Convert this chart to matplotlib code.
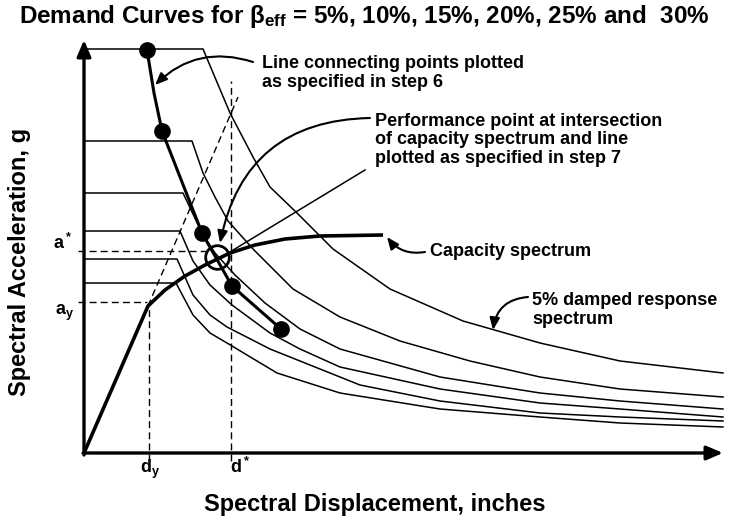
import matplotlib
matplotlib.use("Agg")
import matplotlib.pyplot as plt

plt.rcParams['font.family'] = ['Liberation Sans', 'DejaVu Sans']
plt.rcParams['font.weight'] = 'bold'
plt.rcParams['mathtext.fontset'] = 'custom'
plt.rcParams['mathtext.rm'] = 'Liberation Sans:bold'
plt.rcParams['mathtext.bf'] = 'Liberation Sans:bold'
plt.rcParams['mathtext.it'] = 'Liberation Sans:bold'

##########################
# demand curves (Sd in inches, Sa in g), beta_eff = 5 .. 30 %
sd_5 = [0, 2.38, 2.92, 3.38, 3.72, 4.26, 4.98, 6.12, 7.58, 9.12, 10.72, 12.78]
sa_5 = [1.01, 1.01, 0.85, 0.74, 0.665, 0.60, 0.51, 0.41, 0.33, 0.275, 0.23, 0.20]
sd_10 = [0, 2.16, 2.38, 2.62, 2.88, 3.38, 4.18, 5.12, 6.32, 7.72, 9.12, 10.72, 12.78]
sa_10 = [0.78, 0.78, 0.70, 0.64, 0.58, 0.51, 0.41, 0.34, 0.28, 0.23, 0.19, 0.16, 0.14]
sd_15 = [0, 1.98, 2.36, 2.62, 3.02, 3.62, 4.32, 5.12, 7.12, 9.12, 10.72, 12.78]
sa_15 = [0.65, 0.65, 0.55, 0.50, 0.445, 0.375, 0.31, 0.26, 0.19, 0.15, 0.13, 0.11]
sd_20 = [0, 1.92, 2.18, 2.52, 2.96, 3.72, 4.32, 5.12, 7.12, 9.12, 10.72, 12.78]
sa_20 = [0.555, 0.555, 0.48, 0.42, 0.37, 0.30, 0.26, 0.215, 0.16, 0.125, 0.11, 0.09]
sd_25 = [0, 1.86, 2.18, 2.52, 2.86, 3.72, 4.32, 5.52, 7.12, 9.12, 10.72, 12.78]
sa_25 = [0.485, 0.485, 0.395, 0.345, 0.315, 0.26, 0.23, 0.17, 0.13, 0.10, 0.09, 0.08]
sd_30 = [0, 1.84, 2.18, 2.52, 2.86, 3.86, 5.12, 7.12, 9.12, 10.72, 12.78]
sa_30 = [0.425, 0.425, 0.345, 0.30, 0.275, 0.20, 0.15, 0.11, 0.09, 0.075, 0.065]

# capacity spectrum
cap_sd = [0, 1.28, 1.62, 2.02, 2.42, 2.92, 3.42, 4.02, 4.72, 5.98]
cap_sa = [0, 0.3675, 0.4075, 0.4425, 0.47, 0.50, 0.52, 0.535, 0.5425, 0.545]

# points plotted in step 6 and performance point
pts_sd = [1.26, 1.40, 1.56, 2.36, 2.96, 3.94]
pts_sa = [1.0075, 0.90, 0.805, 0.55, 0.4175, 0.31]
dots_sd = [1.26, 1.56, 2.36, 2.96, 3.94]
dots_sa = [1.0075, 0.805, 0.55, 0.4175, 0.31]
perf_sd, perf_sa = 2.66, 0.49

d_y, a_y = 1.30, 0.3775
d_star, a_star = 2.94, 0.505

##########################

fig = plt.figure(figsize=(7.31, 5.31), dpi=100)
ax = fig.add_axes([0, 0, 1, 1])
ax.set_xlim(-1.68, 12.94)
ax.set_ylim(-0.195, 1.1325)
ax.axis('off')

k = 'black'
for sd, sa in [(sd_5, sa_5), (sd_10, sa_10), (sd_15, sa_15),
               (sd_20, sa_20), (sd_25, sa_25), (sd_30, sa_30)]:
    ax.plot(sd, sa, color=k, lw=1.1)

ax.plot(cap_sd, cap_sa, color=k, lw=2.6, solid_capstyle='butt')

# dashed construction lines
dash = dict(color=k, lw=1.0, dashes=(5, 3))
ax.plot([-0.12, 1.26], [a_y, a_y], **dash)
ax.plot([-0.12, 2.46], [a_star, a_star], **dash)
ax.plot([d_y, d_y], [-0.02, 0.365], **dash)
ax.plot([d_star, d_star], [-0.02, 0.93], **dash)
ax.plot([1.28, 3.08], [0.3675, 0.89], **dash)

# straight line into the performance point
ax.plot([2.72, 5.62], [0.4875, 0.7075], color=k, lw=1.1)

# line connecting points of step 6
ax.plot(pts_sd, pts_sa, color=k, lw=2.2)
ax.plot(dots_sd, dots_sa, 'o', color=k, ms=11)
ax.plot([perf_sd], [perf_sa], 'o', mfc='none', mec=k, mew=2.0, ms=17)

# axes with arrows
arr = dict(arrowstyle='-|>,head_length=0.7,head_width=0.3', lw=2.4, color=k,
           shrinkA=0, shrinkB=0, mutation_scale=14)
ax.annotate('', xy=(12.78, 0), xytext=(-0.02, 0), arrowprops=arr)
ax.annotate('', xy=(0, 1.0325), xytext=(0, -0.005), arrowprops=arr)

# leaders
def leader(start, tip, rad):
    ax.annotate('', xy=tip, xytext=start,
                arrowprops=dict(arrowstyle='-|>,head_length=0.6,head_width=0.25',
                                lw=1.5, color=k, shrinkA=0, shrinkB=0,
                                mutation_scale=12,
                                connectionstyle='arc3,rad=%s' % rad))

leader((3.38, 0.9775), (1.42, 0.92), 0.3)
leader((5.72, 0.8375), (2.72, 0.525), 0.4)
leader((6.82, 0.5025), (6.06, 0.54), -0.3)
leader((8.88, 0.39), (8.18, 0.3075), 0.4)

fs = 13
ax.text(3.56, 0.95, 'Line connecting points plotted\nas specified in step 6',
        fontsize=fs, ha='left', va='center', linespacing=1.15)
ax.text(5.82, 0.7825, 'Performance point at intersection\nof capacity spectrum and line\nplotted as specified in step 7',
        fontsize=fs, ha='left', va='center', linespacing=1.15)
ax.text(6.92, 0.505, 'Capacity spectrum', fontsize=fs, ha='left', va='center')
ax.text(8.96, 0.3575, '5% damped response\nspectrum', fontsize=fs, ha='left',
        va='center', linespacing=1.15)

# tick labels
ax.text(-0.42, 0.525, r'$\mathbf{a^*}$', fontsize=13, ha='center', va='center')
ax.text(-0.38, 0.35, r'$\mathbf{a_y}$', fontsize=13, ha='center', va='center')
ax.text(1.32, -0.04, r'$\mathbf{d_y}$', fontsize=13, ha='center', va='center')
ax.text(3.12, -0.035, r'$\mathbf{d^*}$', fontsize=13, ha='center', va='center')

fig.text(364 / 731, 1 - 16 / 531,
         r'Demand Curves for $\beta_{\mathbf{eff}}$ = 5%, 10%, 15%, 20%, 25% and  30%',
         fontsize=17.5, ha='center', va='center')
fig.text(20 / 731, 1 - 262 / 531, 'Spectral Acceleration, g', fontsize=17,
         rotation=90, ha='center', va='center')
fig.text(375 / 731, 1 - 505 / 531, 'Spectral Displacement, inches', fontsize=17,
         ha='center', va='center')

plt.savefig('out.png', dpi=100)
plt.close()
